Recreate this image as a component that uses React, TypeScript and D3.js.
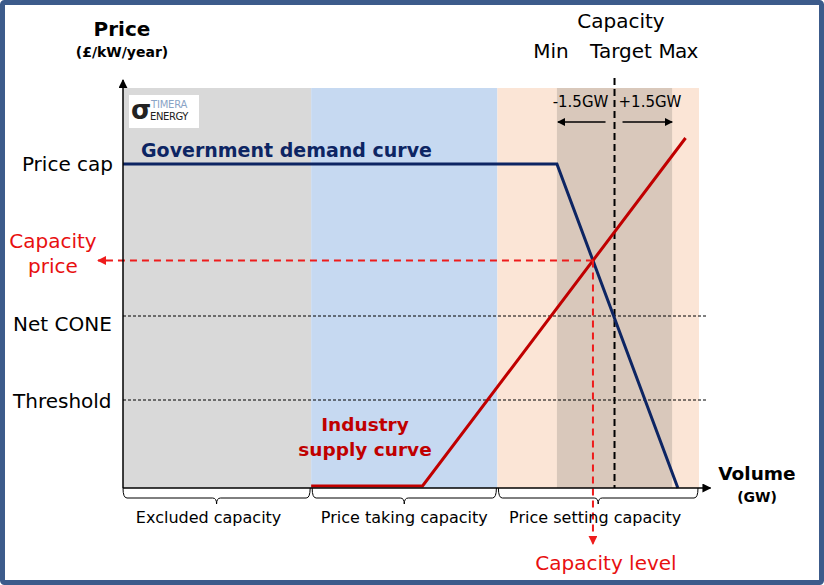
import React from "react";
import * as d3 from "d3";

// ---- data ----
const regionLabels = ["Excluded capacity", "Price taking capacity", "Price setting capacity"];
const regionBounds = [0, 4.9, 9.75, 15];
const regionColors = ["#d9d9d9", "#c6d9f1", "#fbe5d6"];

const levelLabels = ["Net CONE", "Threshold"];
const levelValues = [43, 22];
const priceCap = 81;

const demandVolumes = [0, 11.3, 14.45];
const demandPrices = [81, 81, 0];

const supplyVolumes = [4.9, 7.8, 14.65];
const supplyPrices = [0.5, 0.5, 87.5];

const targetCapacity = 12.8;
const bandWidth = 1.5;
const bandLabels = ["-1.5GW", "+1.5GW"];

// ---- helpers ----
function intersect(ax: number[], ay: number[], bx: number[], by: number[]) {
  for (let i = 0; i < ax.length - 1; i++) {
    for (let j = 0; j < bx.length - 1; j++) {
      const x1 = ax[i], y1 = ay[i], x2 = ax[i + 1], y2 = ay[i + 1];
      const x3 = bx[j], y3 = by[j], x4 = bx[j + 1], y4 = by[j + 1];
      const den = (x1 - x2) * (y3 - y4) - (y1 - y2) * (x3 - x4);
      if (Math.abs(den) < 1e-9) continue;
      const t = ((x1 - x3) * (y3 - y4) - (y1 - y3) * (x3 - x4)) / den;
      const u = -((x1 - x2) * (y1 - y3) - (y1 - y2) * (x1 - x3)) / den;
      if (t >= 0 && t <= 1 && u >= 0 && u <= 1) {
        return [x1 + t * (x2 - x1), y1 + t * (y2 - y1)];
      }
    }
  }
  return [0, 0];
}

const FONT = "'DejaVu Sans', Verdana, sans-serif";

export default function App() {
  const x = d3.scaleLinear().domain([0, 15]).range([123, 699]);
  const y = d3.scaleLinear().domain([0, 100]).range([488, 88]);

  const line = d3
    .line<[number, number]>()
    .x((d) => x(d[0]))
    .y((d) => y(d[1]));

  const demand: [number, number][] = demandVolumes.map((v, i) => [v, demandPrices[i]]);
  const supply: [number, number][] = supplyVolumes.map((v, i) => [v, supplyPrices[i]]);
  const [eqVol, eqPrice] = intersect(demandVolumes, demandPrices, supplyVolumes, supplyPrices);

  const x0 = x(0);
  const y0 = y(0);
  const yTop = y(102);
  const xEnd = x(15.3);

  const brace = (a: number, b: number) => {
    const ya = y0, yb = y0 + 10, yc = y0 + 16, r = 4;
    const m = (a + b) / 2;
    return `M${a},${ya} Q${a},${yb} ${a + r},${yb} L${m - r},${yb} Q${m},${yb} ${m},${yc} Q${m},${yb} ${m + r},${yb} L${b - r},${yb} Q${b},${yb} ${b},${ya}`;
  };
  const braceLabelShift = [-8, 0, -3];
  const levelLabelOffset = [15, 8];

  const tgt = x(targetCapacity);
  const bMin = x(targetCapacity - bandWidth);
  const bMax = x(targetCapacity + bandWidth);

  return (
    <svg
      width={824}
      height={585}
      style={{ position: "absolute", left: 0, top: 0, display: "block", background: "#fff" }}
      fontFamily={FONT}
    >
      <defs>
        <marker id="arrBlack" viewBox="0 0 10 10" refX="9" refY="5" markerWidth="9" markerHeight="9" markerUnits="userSpaceOnUse" orient="auto">
          <path d="M0,0 L10,5 L0,10 z" fill="#000" />
        </marker>
        <marker id="arrSmall" viewBox="0 0 10 10" refX="9" refY="5" markerWidth="8" markerHeight="8" markerUnits="userSpaceOnUse" orient="auto">
          <path d="M0,0 L10,5 L0,10 z" fill="#000" />
        </marker>
        <marker id="arrRed" viewBox="0 0 10 10" refX="9" refY="5" markerWidth="9" markerHeight="9" markerUnits="userSpaceOnUse" orient="auto">
          <path d="M0,0 L10,5 L0,10 z" fill="#ee1c1c" />
        </marker>
      </defs>

      {/* frame */}
      <rect x={2.5} y={2.5} width={819} height={580} fill="#fff" stroke="#3c5b8b" strokeWidth={5} rx={2} />

      {/* regions */}
      {regionColors.map((c, i) => (
        <rect
          key={i}
          x={x(regionBounds[i])}
          y={y(100)}
          width={x(regionBounds[i + 1]) - x(regionBounds[i])}
          height={y(0) - y(100)}
          fill={c}
        />
      ))}
      <rect x={bMin} y={y(100)} width={bMax - bMin} height={y(0) - y(100)} fill="#d9c8bb" />

      {/* logo */}
      <rect x={129} y={95} width={70} height={33} fill="#fff" />
      <text x={131} y={119} fontSize={26} fontWeight="bold" fill="#222">σ</text>
      <text x={151} y={108} fontSize={10} fill="#8aa4c6" letterSpacing={-0.2}>TIMERA</text>
      <text x={150} y={120} fontSize={10} fill="#222" letterSpacing={-0.4}>ENERGY</text>

      {/* level lines */}
      {levelValues.map((v, i) => (
        <line key={i} x1={x0} x2={708} y1={y(v)} y2={y(v)} stroke="#000" strokeWidth={1} strokeDasharray="3,2" />
      ))}

      {/* target line */}
      <line x1={tgt} x2={tgt} y1={78} y2={y0} stroke="#000" strokeWidth={2} strokeDasharray="7,4" />

      {/* band arrows */}
      <line x1={tgt - 9} x2={bMin + 1} y1={122} y2={122} stroke="#000" strokeWidth={1.3} markerEnd="url(#arrSmall)" />
      <line x1={tgt + 8} x2={bMax} y1={122} y2={122} stroke="#000" strokeWidth={1.3} markerEnd="url(#arrSmall)" />
      <text x={580.5} y={107} fontSize={15} textAnchor="middle" fill="#000">{bandLabels[0]}</text>
      <text x={650} y={107} fontSize={15} textAnchor="middle" fill="#000">{bandLabels[1]}</text>

      {/* demand & supply */}
      <path d={line(demand) || ""} fill="none" stroke="#0d2563" strokeWidth={3} />
      <path d={line(supply) || ""} fill="none" stroke="#c00000" strokeWidth={3} />

      {/* equilibrium dashed lines */}
      <line x1={x(eqVol)} x2={98} y1={y(eqPrice)} y2={y(eqPrice)} stroke="#ee1c1c" strokeWidth={2} strokeDasharray="7,5" markerEnd="url(#arrRed)" />
      <line x1={x(eqVol)} x2={x(eqVol)} y1={y(eqPrice)} y2={544} stroke="#ee1c1c" strokeWidth={2} strokeDasharray="7,5" markerEnd="url(#arrRed)" />

      {/* axes */}
      <line x1={x0} x2={x0} y1={y0} y2={yTop} stroke="#000" strokeWidth={1.5} markerEnd="url(#arrBlack)" />
      <line x1={x0} x2={xEnd} y1={y0} y2={y0} stroke="#000" strokeWidth={1.5} markerEnd="url(#arrBlack)" />

      {/* braces */}
      {regionLabels.map((l, i) => {
        const a = x(regionBounds[i]) + (i === 0 ? 0 : 1);
        const b = x(regionBounds[i + 1]) - 1;
        return (
          <g key={i}>
            <path d={brace(a, b)} fill="none" stroke="#000" strokeWidth={1} />
            <text x={(a + b) / 2 + braceLabelShift[i]} y={523} fontSize={16} textAnchor="middle" fill="#000">{l}</text>
          </g>
        );
      })}

      {/* axis titles */}
      <text x={122} y={36} fontSize={20} fontWeight="bold" textAnchor="middle">Price</text>
      <text x={122} y={57} fontSize={14} fontWeight="bold" textAnchor="middle">(£/kW/year)</text>
      <text x={757} y={480} fontSize={18.5} fontWeight="bold" textAnchor="middle">Volume</text>
      <text x={757} y={502} fontSize={14} fontWeight="bold" textAnchor="middle">(GW)</text>

      {/* price labels */}
      <text x={113} y={y(priceCap) + 7} fontSize={20} textAnchor="end">Price cap</text>
      {levelLabels.map((l, i) => (
        <text key={i} x={13} y={y(levelValues[i]) + levelLabelOffset[i]} fontSize={20}>{l}</text>
      ))}
      <text x={53} y={248} fontSize={20} textAnchor="middle" fill="#e81010">Capacity</text>
      <text x={53} y={273} fontSize={20} textAnchor="middle" fill="#e81010">price</text>

      {/* capacity labels */}
      <text x={621} y={28} fontSize={20} textAnchor="middle">Capacity</text>
      <text x={551} y={58} fontSize={20} textAnchor="middle">Min</text>
      <text x={621} y={58} fontSize={20} textAnchor="middle">Target</text>
      <text x={678} y={58} fontSize={20} textAnchor="middle" letterSpacing={-0.8}>Max</text>

      <text x={606} y={570} fontSize={20} textAnchor="middle" fill="#e81010">Capacity level</text>

      {/* curve labels */}
      <text x={141} y={157} fontSize={19} fontWeight="bold" fill="#0d2563">Government demand curve</text>
      <text x={365} y={431} fontSize={18.5} fontWeight="bold" textAnchor="middle" fill="#c00000">Industry</text>
      <text x={365} y={456} fontSize={18.5} fontWeight="bold" textAnchor="middle" fill="#c00000">supply curve</text>
    </svg>
  );
}
